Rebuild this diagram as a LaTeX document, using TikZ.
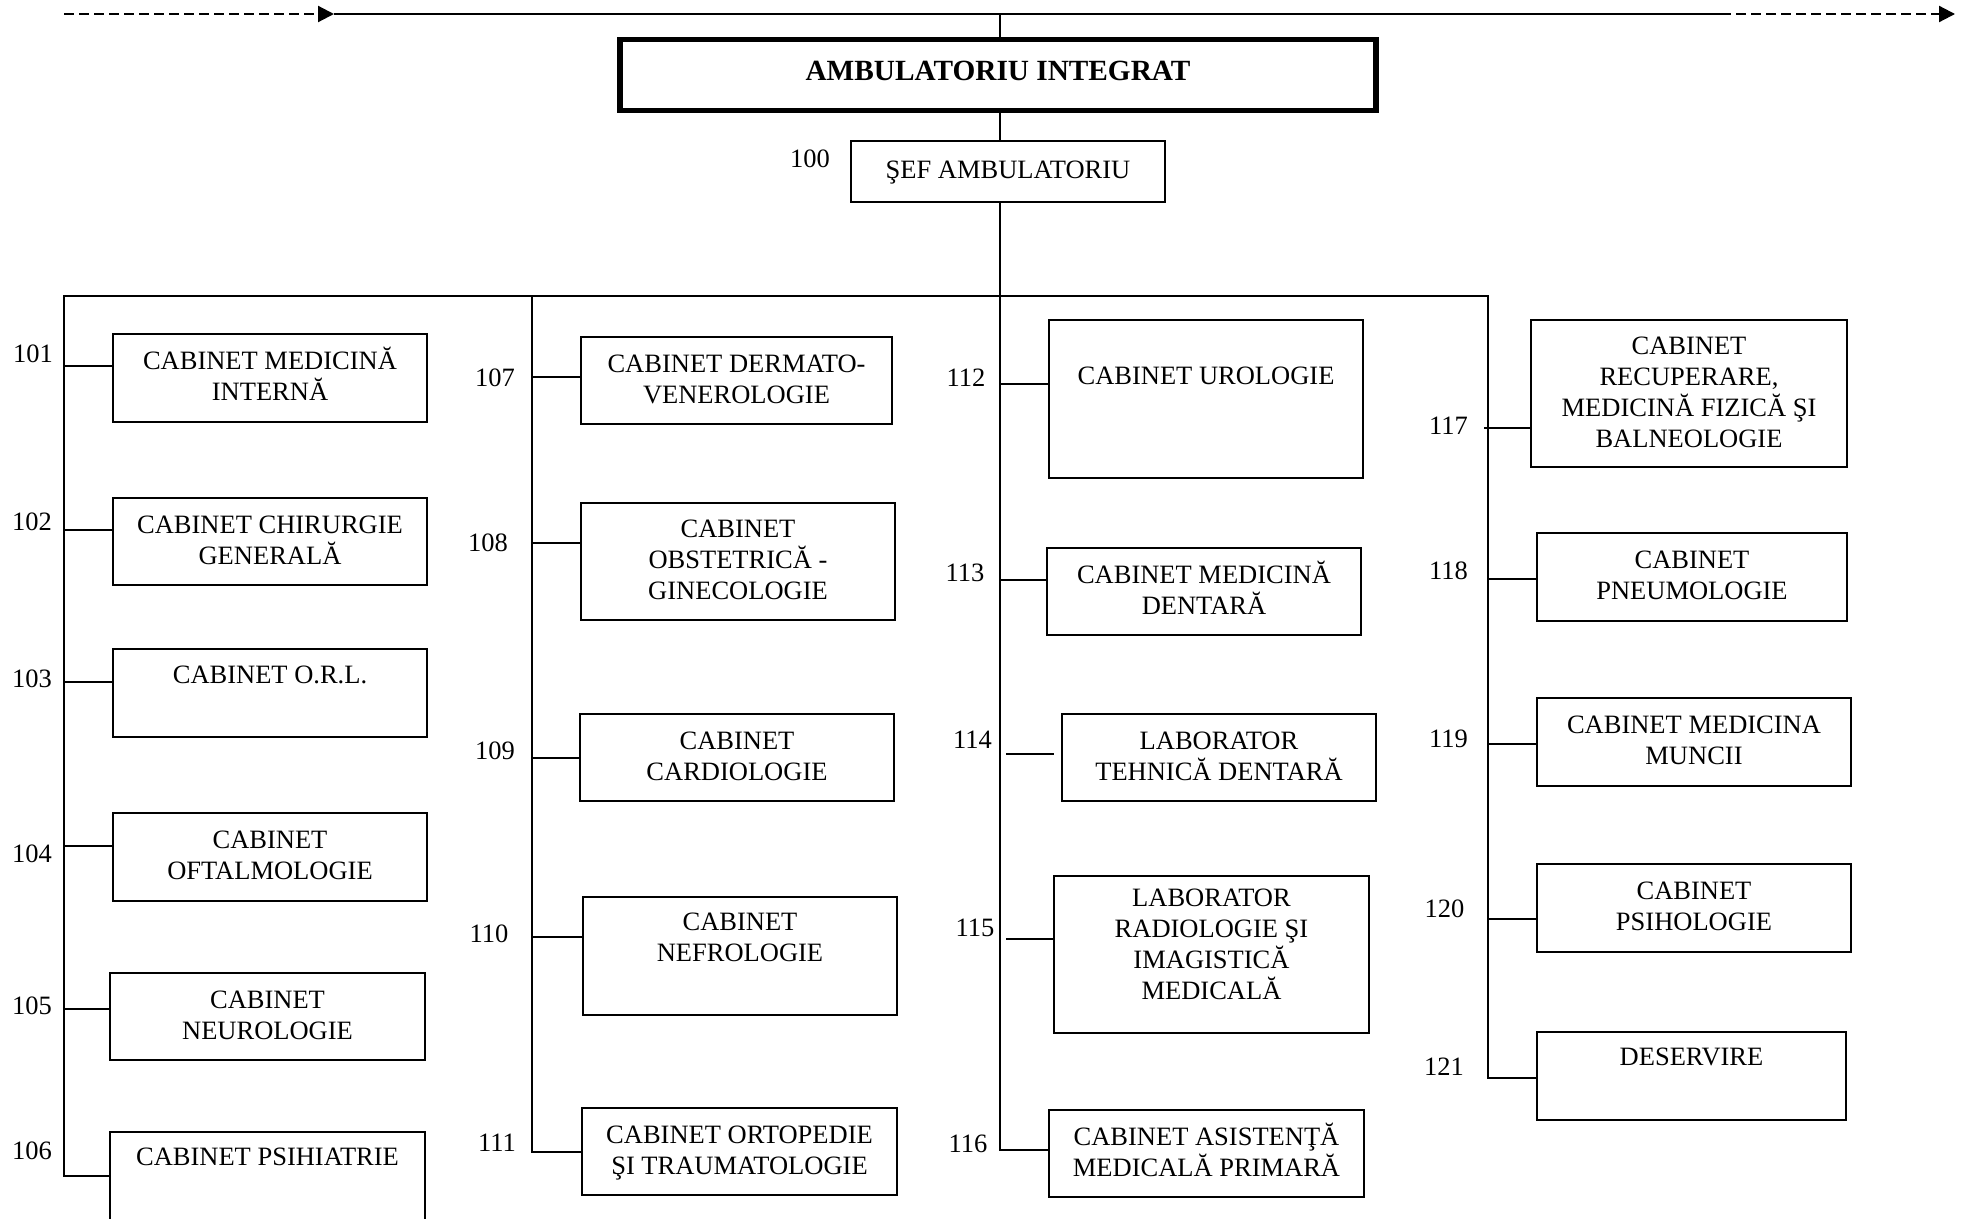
\documentclass[tikz,border=0pt]{standalone}
\usepackage{fontspec}
\setmainfont{Liberation Serif}
\usetikzlibrary{arrows.meta}

% text font for the unit boxes; the strut keeps cap letters centred in each row
\newcommand{\capfont}{\fontsize{26.5}{31}\selectfont
  \setbox\strutbox\hbox{\vrule height 22.5pt depth 8.5pt width 0pt}}

% \orgbox{name}{x-left}{x-right}{y-top}{y-bottom}{text}
\newcommand{\orgbox}[6]{%
  \node[unit, minimum width={(#3-#2)*1pt}, minimum height={(#5-#4)*1pt}]
    (#1) at ({(#2+#3)/2},{(#4+#5)/2}) {\begin{tabular}{@{}c@{}}#6\end{tabular}};}

% \tap{number}{x of the vertical line}{y}: branch from a vertical line to box b<number>
\newcommand{\tap}[3]{%
  \coordinate (j#1) at (#2,#3);
  \draw[wire] (j#1) -- (j#1 -| b#1.west);}

\tikzset{
  unit/.style={draw, line width=2.2pt, fill=white, inner sep=0pt, outer sep=0pt, font=\capfont},
  tag/.style={inner sep=0pt, font=\fontsize{26.5}{31}\selectfont},
  wire/.style={line width=2pt},
  flow/.style={line width=2.2pt, dash pattern=on 10pt off 5pt,
               -{Triangle[length=16pt,width=16pt]}},
}

\begin{document}
\begin{tikzpicture}[x=1pt, y=-1pt]
\fill[white] (0,0) rectangle (1975,1218);
\useasboundingbox (0,0) rectangle (1975,1218);

% top level
\node[draw, line width=5.5pt, fill=white, inner sep=0pt,
      minimum width=756pt, minimum height=71pt,
      font=\fontsize{29.3}{33}\selectfont\bfseries,
      text height=19.2pt, text depth=9pt] (hdr) at (998,75) {AMBULATORIU INTEGRAT};
\orgbox{sef}{851}{1165}{141}{202}{ŞEF AMBULATORIU}
\node[tag] (n100) at (810,158.5) {100};

% column 1
\orgbox{b101}{113}{427}{334}{422}{CABINET MEDICINĂ\\INTERNĂ}
\orgbox{b102}{113}{427}{498}{585}{CABINET CHIRURGIE\\GENERALĂ}
\orgbox{b103}{113}{427}{649}{737}{CABINET O.R.L.\\[34pt]}
\orgbox{b104}{113}{427}{813}{901}{CABINET\\OFTALMOLOGIE}
\orgbox{b105}{110}{425}{973}{1060}{CABINET\\NEUROLOGIE}
\orgbox{b106}{110}{425}{1132}{1220}{CABINET PSIHIATRIE\\[36pt]}

% column 2
\orgbox{b107}{581}{892}{337}{424}{CABINET DERMATO-\\VENEROLOGIE}
\orgbox{b108}{581}{895}{503}{620}{CABINET\\OBSTETRICĂ -\\GINECOLOGIE}
\orgbox{b109}{580}{894}{714}{801}{CABINET\\CARDIOLOGIE}
\orgbox{b110}{583}{897}{897}{1015}{CABINET\\NEFROLOGIE\\[35pt]}
\orgbox{b111}{582}{897}{1108}{1195}{CABINET ORTOPEDIE\\ŞI TRAUMATOLOGIE}

% column 3
\orgbox{b112}{1049}{1363}{320}{478}{CABINET UROLOGIE\\[44pt]}
\orgbox{b113}{1047}{1361}{548}{635}{CABINET MEDICINĂ\\DENTARĂ}
\orgbox{b114}{1062}{1376}{714}{801}{LABORATOR\\TEHNICĂ DENTARĂ}
\orgbox{b115}{1054}{1369}{876}{1033}{LABORATOR\\RADIOLOGIE ŞI\\IMAGISTICĂ\\MEDICALĂ\\[17pt]}
\orgbox{b116}{1049}{1364}{1110}{1197}{CABINET ASISTENŢĂ\\MEDICALĂ PRIMARĂ}

% column 4
\orgbox{b117}{1531}{1847}{320}{467}{CABINET\\RECUPERARE,\\MEDICINĂ FIZICĂ ŞI\\BALNEOLOGIE}
\orgbox{b118}{1537}{1847}{533}{621}{CABINET\\PNEUMOLOGIE}
\orgbox{b119}{1537}{1851}{698}{786}{CABINET MEDICINA\\MUNCII}
\orgbox{b120}{1537}{1851}{864}{952}{CABINET\\PSIHOLOGIE}
\orgbox{b121}{1537}{1846}{1032}{1120}{DESERVIRE\\[36pt]}

% unit numbers
\node[tag] (n101) at (33,353.5) {101};
\node[tag] (n102) at (32,522) {102};
\node[tag] (n103) at (32,679) {103};
\node[tag] (n104) at (32,854) {104};
\node[tag] (n105) at (32,1006) {105};
\node[tag] (n106) at (32,1151) {106};
\node[tag] (n107) at (495,377.5) {107};
\node[tag] (n108) at (488,542.5) {108};
\node[tag] (n109) at (495,751) {109};
\node[tag] (n110) at (489,934) {110};
\node[tag] (n111) at (497,1142.5) {111};
\node[tag] (n112) at (966,377.5) {112};
\node[tag] (n113) at (965,572.5) {113};
\node[tag] (n114) at (972.5,740) {114};
\node[tag] (n115) at (975,927.5) {115};
\node[tag] (n116) at (968,1144) {116};
\node[tag] (n117) at (1448.5,426) {117};
\node[tag] (n118) at (1448.5,570.5) {118};
\node[tag] (n119) at (1448.5,739) {119};
\node[tag] (n120) at (1444.5,909) {120};
\node[tag] (n121) at (1444,1067) {121};

% top flow line
\coordinate (tl) at (64,14);
\coordinate (ta) at (334,14);
\coordinate (tb) at (1721,14);
\coordinate (tr) at (1955,14);
\draw[flow] (tl) -- (ta);
\draw[wire] (ta) -- (tb);
\draw[flow] (tb) -- (tr);

% main trunk
\coordinate (tj) at (1000,14);
\draw[wire] (tj) -- (tj |- hdr.north);
\draw[wire] (tj |- hdr.south) -- (tj |- sef.north);

% distribution bus with outer columns
\coordinate (bus1) at (64,296);
\coordinate (bus2) at (532,296);
\coordinate (bus4) at (1488,296);
\coordinate (j106) at (64,1176);
\coordinate (j121) at (1488,1078);
\draw[wire] (b106.west |- j106) -- (j106) -- (bus1) -- (bus4) -- (j121) -- (b121.west |- j121);

% column 2 and column 3 lines
\coordinate (j111) at (532,1152);
\draw[wire] (bus2) -- (j111) -- (j111 -| b111.west);
\coordinate (j116) at (1000,1150);
\draw[wire] (tj |- sef.south) -- (j116) -- (j116 -| b116.west);

% branches
\tap{101}{64}{366}
\tap{102}{64}{530}
\tap{103}{64}{682}
\tap{104}{64}{846}
\tap{105}{64}{1009}
\tap{107}{532}{377}
\tap{108}{532}{543}
\tap{109}{532}{758}
\tap{110}{532}{937}
\tap{112}{1000}{384}
\tap{113}{1000}{580}
\tap{115}{1006}{939}
\coordinate (g114) at (1006,754);
\coordinate (h114) at (1054,754);
\draw[wire] (g114) -- (h114);
\tap{117}{1484}{428}
\tap{118}{1488}{579}
\tap{119}{1488}{744}
\tap{120}{1488}{919}
\end{tikzpicture}
\end{document}
